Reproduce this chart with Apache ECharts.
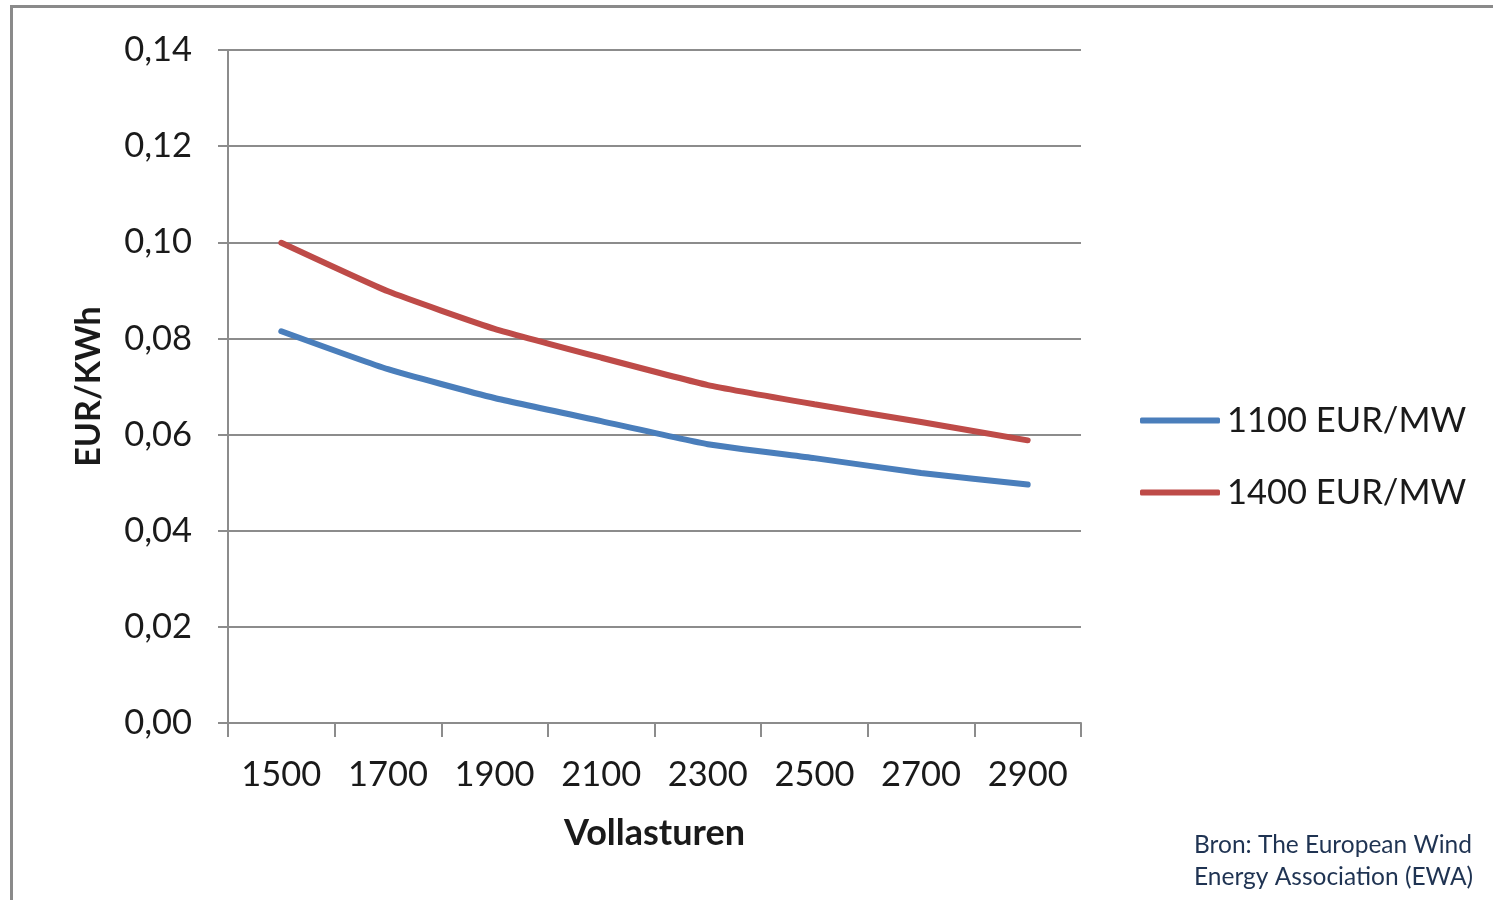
<!DOCTYPE html>
<html>
<head>
<meta charset="utf-8">
<script src="https://cdn.jsdelivr.net/npm/echarts@6/dist/echarts.min.js"></script>
<style>
  html, body { margin: 0; padding: 0; background: #fff; }
  #chart { width: 1493px; height: 900px; }
</style>
</head>
<body>
<div id="chart"></div>
<script>
// Daten
const categories = ['1500', '1700', '1900', '2100', '2300', '2500', '2700', '2900'];
const cost1100 = [0.0815, 0.0736, 0.0676, 0.0628, 0.0580, 0.0551, 0.0520, 0.0496];
const cost1400 = [0.0999, 0.0898, 0.0820, 0.0760, 0.0703, 0.0663, 0.0626, 0.0588];
const seriesNames = ['1100 EUR/MW', '1400 EUR/MW'];
const yTicks = { min: 0, max: 0.14, interval: 0.02 };

const font = 'Lato, "Open Sans", sans-serif';
const gridColor = '#8c8c8c';

const chart = echarts.init(document.getElementById('chart'));

const lineSeries = (name, data, color) => ({
  name,
  type: 'line',
  data,
  smooth: 0.15,
  showSymbol: false,
  color,
  lineStyle: { width: 6, color, cap: 'round' }
});

chart.setOption({
  animation: false,
  grid: { left: 228, right: 412, top: 50, bottom: 177 },
  legend: {
    orient: 'vertical',
    left: 1140,
    top: 403,
    padding: 0,
    itemWidth: 80,
    itemHeight: 6,
    itemGap: 37,
    icon: 'roundRect',
    data: seriesNames,
    textStyle: { fontFamily: font, fontSize: 34.5, color: '#1a1a1a', padding: [0, 0, 0, 2] }
  },
  xAxis: {
    type: 'category',
    data: categories,
    boundaryGap: true,
    name: 'Vollasturen',
    nameLocation: 'middle',
    nameGap: 92,
    nameTextStyle: { fontFamily: font, fontSize: 36, fontWeight: 'bold', color: '#1a1a1a' },
    axisLine: { lineStyle: { color: gridColor, width: 2 } },
    axisTick: { show: true, length: 14, lineStyle: { color: gridColor, width: 2 } },
    axisLabel: { fontFamily: font, fontSize: 34.5, color: '#1a1a1a', margin: 34 }
  },
  yAxis: {
    type: 'value',
    min: yTicks.min,
    max: yTicks.max,
    interval: yTicks.interval,
    name: 'EUR/KWh',
    nameLocation: 'middle',
    nameGap: 122,
    nameTextStyle: { fontFamily: font, fontSize: 34, fontWeight: 'bold', color: '#1a1a1a' },
    axisLine: { show: true, lineStyle: { color: gridColor, width: 2 } },
    axisTick: { show: true, length: 10, lineStyle: { color: gridColor, width: 2 } },
    splitLine: { lineStyle: { color: gridColor, width: 2 } },
    axisLabel: {
      fontFamily: font,
      fontSize: 34.5,
      color: '#1a1a1a',
      margin: 36,
      formatter: v => v.toFixed(2).replace('.', ',')
    }
  },
  series: [
    lineSeries(seriesNames[0], cost1100, '#4a7ebb'),
    lineSeries(seriesNames[1], cost1400, '#be4b48')
  ],
  graphic: [
    {
      type: 'rect',
      z: -1,
      shape: { x: 11.5, y: 6.5, width: 1600, height: 1000 },
      style: { fill: 'none', stroke: '#8a8a8a', lineWidth: 3 }
    },
    {
      type: 'text',
      left: 1194,
      top: 829,
      style: {
        text: 'Bron: The European Wind\nEnergy Association (EWA)',
        fontFamily: font,
        fontSize: 24.5,
        lineHeight: 32,
        fill: '#1f3352'
      }
    }
  ]
});

window.addEventListener('resize', () => chart.resize());
</script>
</body>
</html>
